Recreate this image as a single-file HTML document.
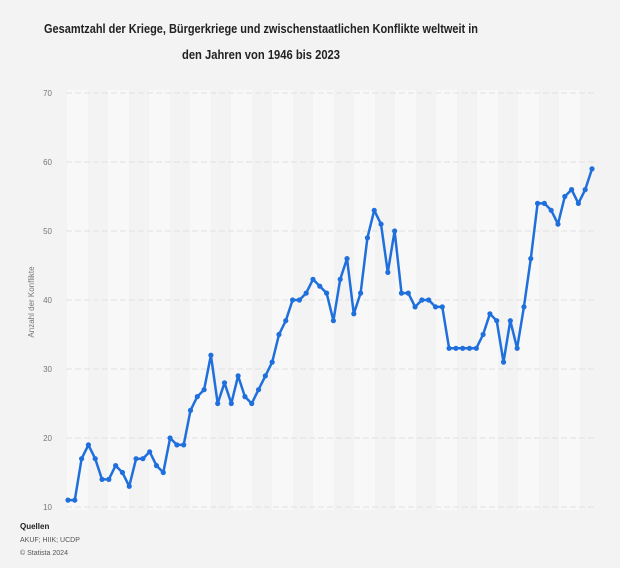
<!DOCTYPE html>
<html><head><meta charset="utf-8"><style>
html,body{margin:0;padding:0;background:#f3f3f3;}
svg{display:block;}
</style></head><body>
<svg width="620" height="568" viewBox="0 0 620 568" xmlns="http://www.w3.org/2000/svg">
<rect width="620" height="568" fill="#f3f3f3"/>
<g font-family="Liberation Sans, sans-serif" font-weight="bold" fill="#222" font-size="13" text-anchor="middle">
<text x="261" y="33" textLength="434" lengthAdjust="spacingAndGlyphs">Gesamtzahl der Kriege, Bürgerkriege und zwischenstaatlichen Konflikte weltweit in</text>
<text x="261" y="59" textLength="158" lengthAdjust="spacingAndGlyphs">den Jahren von 1946 bis 2023</text>
</g>
<g id="bands" fill="#f8f8f8"></g>
<g stroke="#e0e0e0" stroke-width="1" stroke-dasharray="6,3" id="grid"></g>
<g font-family="Liberation Sans, sans-serif" font-size="8" fill="#777" text-anchor="end" id="ylab"></g>
<text transform="translate(34,302) rotate(-90)" font-family="Liberation Sans, sans-serif" font-size="8" fill="#777" text-anchor="middle">Anzahl der Konflikte</text>
<polyline id="line" fill="none" stroke="#1f6fdc" stroke-width="2.5" stroke-linejoin="round"/>
<g id="dots" fill="#1f6fdc"></g>
<g font-family="Liberation Sans, sans-serif" fill="#555">
<text x="20" y="529" font-size="8" font-weight="bold" fill="#222">Quellen</text>
<text x="20" y="542" font-size="7">AKUF; HIIK; UCDP</text>
<text x="20" y="555" font-size="7">© Statista 2024</text>
</g>
</svg>
<script>
var ns="http://www.w3.org/2000/svg";
function el(t,a,p){var e=document.createElementNS(ns,t);for(var k in a)e.setAttribute(k,a[k]);p.appendChild(e);return e;}
var bands=document.getElementById('bands');
for(var x=67;x<600;x+=41){el('rect',{x:x,y:90,width:21,height:420},bands);}
var grid=document.getElementById('grid'),yl=document.getElementById('ylab');
function Y(v){return 507-(v-10)*6.9;}
for(var v=10;v<=70;v+=10){el('line',{x1:66,x2:595,y1:Y(v),y2:Y(v)},grid);var t=el('text',{x:52,y:Y(v)+3},yl);t.textContent=v;}
var d=[11,11,17,19,17,14,14,16,15,13,17,17,18,16,15,20,19,19,24,26,27,32,25,28,25,29,26,25,27,29,31,35,37,40,40,41,43,42,41,37,43,46,38,41,49,53,51,44,50,41,41,39,40,40,39,39,33,33,33,33,33,35,38,37,31,37,33,39,46,54,54,53,51,55,56,54,56,59];
var n=d.length,pts=[],dots=document.getElementById('dots');
for(var i=0;i<n;i++){var x=68+i*(592-68)/(n-1),y=Y(d[i]);pts.push(x.toFixed(1)+','+y.toFixed(1));el('circle',{cx:x,cy:y,r:2.6},dots);}
document.getElementById('line').setAttribute('points',pts.join(' '));
</script>
</body></html>
